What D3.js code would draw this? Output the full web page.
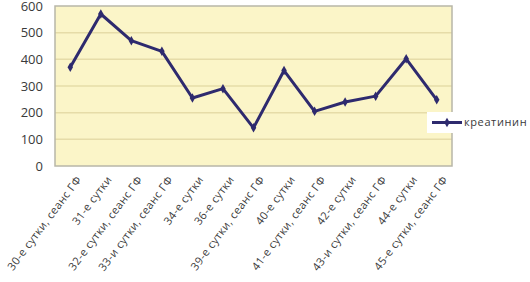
<!DOCTYPE html>
<html>
<head>
<meta charset="utf-8">
<script src="https://cdn.jsdelivr.net/npm/d3@7"></script>
<style>
  body { margin: 0; background: #fff; }
  text { font-family: "Open Sans", "DejaVu Sans", sans-serif; }
</style>
</head>
<body>
<div id="chart"></div>
<script>
'use strict';

const categories = [
    '30-е сутки, сеанс ГФ', '31-е сутки', '32-е сутки, сеанс ГФ', '33-и сутки, сеанс ГФ',
    '34-е сутки', '36-е сутки', '39-е сутки, сеанс ГФ', '40-е сутки',
    '41-е сутки, сеанс ГФ', '42-е сутки', '43-и сутки, сеанс ГФ', '44-е сутки',
    '45-е сутки, сеанс ГФ'
];
const creatinine = [370, 570, 470, 430, 255, 290, 143, 358, 205, 240, 262, 402, 248];
const yTicks = [0, 100, 200, 300, 400, 500, 600];
const seriesName = 'креатинин';

let width = 530, height = 282;
let plotLeft = 55, plotRight = 452, plotTop = 6, plotBottom = 166;

let svg = d3.select('#chart').append('svg')
    .attr('width', width)
    .attr('height', height);

let xScale = d3.scalePoint()
    .domain(categories)
    .range([plotLeft, plotRight])
    .padding(0.5);

let yScale = d3.scaleLinear()
    .domain([0, 600])
    .range([plotBottom, plotTop]);

svg.append('rect')
    .attr('x', plotLeft).attr('y', plotTop)
    .attr('width', plotRight - plotLeft).attr('height', plotBottom - plotTop)
    .attr('fill', '#fbf5c8');

svg.selectAll('.grid')
    .data(yTicks.slice(1, -1))
    .enter().append('line')
    .attr('x1', plotLeft).attr('x2', plotRight)
    .attr('y1', d => yScale(d)).attr('y2', d => yScale(d))
    .attr('stroke', '#e6dca8')
    .attr('stroke-width', 1.5);

svg.append('rect')
    .attr('x', plotLeft).attr('y', plotTop)
    .attr('width', plotRight - plotLeft).attr('height', plotBottom - plotTop)
    .attr('fill', 'none')
    .attr('stroke', '#b8b6a8')
    .attr('stroke-width', 1.5);

let yAxis = d3.axisLeft(yScale).tickValues(yTicks).tickSize(0).tickPadding(12);
let gy = svg.append('g').attr('transform', `translate(${plotLeft},0)`).call(yAxis);
gy.select('.domain').remove();
gy.selectAll('text')
    .attr('font-size', 13)
    .attr('fill', '#3a3a3a');

let xAxis = d3.axisBottom(xScale).tickSize(0).tickPadding(0);
let gx = svg.append('g').attr('transform', `translate(0,${plotBottom})`).call(xAxis);
gx.select('.domain').remove();
gx.selectAll('text')
    .attr('font-size', 11)
    .attr('letter-spacing', 0.4)
    .attr('fill', '#3a3a3a')
    .attr('text-anchor', 'end')
    .attr('y', 0)
    .attr('dy', '0.7em')
    .attr('transform', 'translate(5,9) rotate(-53)');

let line = d3.line()
    .x((d, i) => xScale(categories[i]))
    .y(d => yScale(d));

svg.append('path')
    .datum(creatinine)
    .attr('d', line)
    .attr('fill', 'none')
    .attr('stroke', '#2e2a6e')
    .attr('stroke-width', 3)
    .attr('stroke-linejoin', 'round');

svg.selectAll('.pt')
    .data(creatinine)
    .enter().append('path')
    .attr('d', d3.symbol(d3.symbolDiamond, 26))
    .attr('transform', (d, i) => `translate(${xScale(categories[i])},${yScale(d)})`)
    .attr('fill', '#2e2a6e');

// legend
let lg = svg.append('g').attr('transform', 'translate(427,112)');
lg.append('rect')
    .attr('width', 103).attr('height', 21)
    .attr('fill', '#fff');
lg.append('line')
    .attr('x1', 5).attr('x2', 35).attr('y1', 10.5).attr('y2', 10.5)
    .attr('stroke', '#2e2a6e').attr('stroke-width', 3);
lg.append('path')
    .attr('d', d3.symbol(d3.symbolDiamond, 26))
    .attr('transform', 'translate(20,10.5)')
    .attr('fill', '#2e2a6e');
lg.append('text')
    .text(seriesName)
    .attr('x', 37).attr('y', 10.5)
    .attr('dy', '0.35em')
    .attr('font-size', 11)
    .attr('letter-spacing', 0.6)
    .attr('fill', '#3a3a3a');
</script>
</body>
</html>
